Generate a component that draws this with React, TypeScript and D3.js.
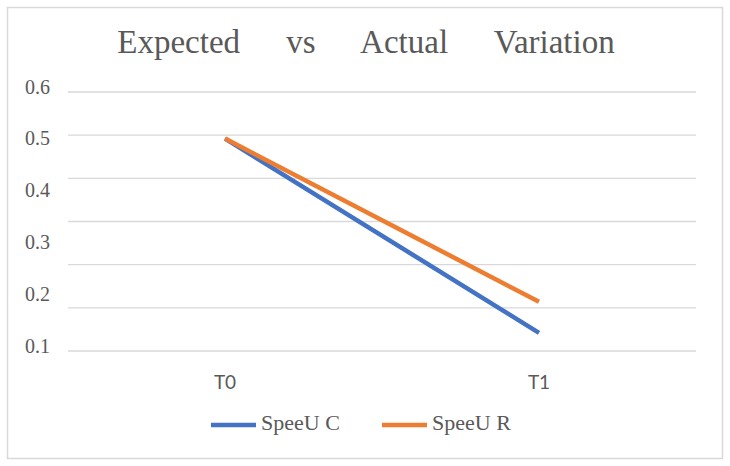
import React from "react";
import * as d3 from "d3";

const categories = ["T0", "T1"];
const seriesNames = ["SpeeU C", "SpeeU R"];
const speeUC = [0.51, 0.135];
const speeUR = [0.51, 0.195];
const yTickLabels = [0.1, 0.2, 0.3, 0.4, 0.5, 0.6];
const colors = ["#4472C4", "#ED7D31"];

const W = 730;
const H = 466;
const serif = "'Palatino Linotype', 'Book Antiqua', Palatino, 'Liberation Serif', serif";
const sans = "Lato, 'Open Sans', sans-serif";

export default function App() {
  const x = d3.scalePoint<string>().domain(categories).range([68, 696]).padding(0.5);
  const y = d3.scaleLinear().domain([0.1, 0.6]).range([351, 92]);
  const gridValues = d3.range(7).map((i) => 0.1 + (i * 0.5) / 6);
  const line = d3
    .line<number>()
    .x((_, i) => x(categories[i]) as number)
    .y((d) => y(d));
  const series = [speeUC, speeUR];

  return (
    <svg
      width={W}
      height={H}
      style={{ position: "absolute", left: 0, top: 0, background: "#fff" }}
    >
      <rect x={7.5} y={7.5} width={715} height={451} fill="#fff" stroke="#d9d9d9" strokeWidth={1.5} />
      <text
        x={366}
        y={52.5}
        textAnchor="middle"
        fontFamily={serif}
        fontSize={33}
        fill="#595959"
        style={{ wordSpacing: "38px" }}
      >
        Expected vs Actual Variation
      </text>
      {gridValues.map((v, i) => (
        <line key={i} x1={68} x2={696} y1={y(v)} y2={y(v)} stroke="#d9d9d9" strokeWidth={1.3} />
      ))}
      {yTickLabels.map((v) => (
        <text
          key={v}
          x={50}
          y={y(v) - 3}
          textAnchor="end"
          dominantBaseline="middle"
          fontFamily={serif}
          fontSize={20}
          fill="#595959"
        >
          {d3.format(".1f")(v)}
        </text>
      ))}
      {categories.map((c) => (
        <text
          key={c}
          x={x(c)}
          y={389}
          textAnchor="middle"
          fontFamily={sans}
          fontSize={19}
          fill="#595959"
        >
          {c}
        </text>
      ))}
      {series.map((s, i) => (
        <path key={i} d={line(s) || ""} fill="none" stroke={colors[i]} strokeWidth={4.5} />
      ))}
      {seriesNames.map((n, i) => {
        const lx = 211 + i * 171;
        return (
          <g key={n}>
            <line x1={lx} x2={lx + 45} y1={425} y2={425} stroke={colors[i]} strokeWidth={4.5} />
            <text x={lx + 50} y={430} fontFamily={serif} fontSize={22} fill="#595959">
              {n}
            </text>
          </g>
        );
      })}
    </svg>
  );
}
